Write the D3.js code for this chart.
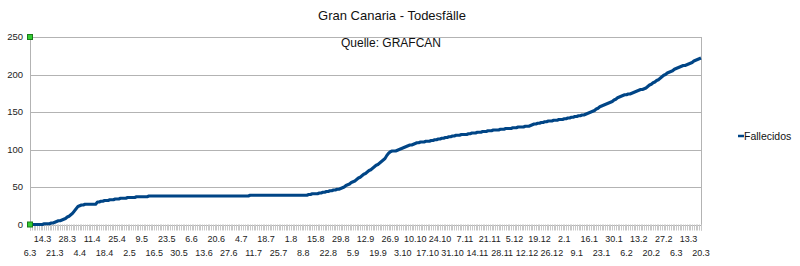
<!DOCTYPE html>
<html>
<head>
<meta charset="utf-8">
<script src="https://cdn.jsdelivr.net/npm/d3@7"></script>
<style>
  body { margin: 0; background: #fff; }
  svg { display: block; font-family: 'Liberation Sans', Arial, sans-serif; }
</style>
</head>
<body>
<svg id="chart" width="800" height="266"></svg>
<script>
// days: 6.3.2020, then 8.3.2020 .. 20.3.2021 (7.3 is missing in the source)
const firstDay = new Date(2020, 2, 6);
const rangeStart = new Date(2020, 2, 8);
const rangeEnd = new Date(2021, 2, 21);

// Fallecidos (cumulative), one value per day
const fallecidos = [
  0, 0, 0, 0, 0, 0, 0,
  0, 1, 1, 1, 1, 2, 2,
  3, 4, 5, 5, 6, 7, 8,
  10, 11, 13, 15, 18, 21, 24,
  25, 26, 26, 27, 27, 27, 27,
  27, 27, 27, 30, 30, 31, 31,
  32, 32, 32, 33, 33, 33, 34,
  34, 34, 35, 35, 35, 35, 36,
  36, 36, 36, 36, 37, 37, 37,
  37, 37, 37, 37, 38, 38, 38,
  38, 38, 38, 38, 38, 38, 38,
  38, 38, 38, 38, 38, 38, 38,
  38, 38, 38, 38, 38, 38, 38,
  38, 38, 38, 38, 38, 38, 38,
  38, 38, 38, 38, 38, 38, 38,
  38, 38, 38, 38, 38, 38, 38,
  38, 38, 38, 38, 38, 38, 38,
  38, 38, 38, 38, 38, 39, 39,
  39, 39, 39, 39, 39, 39, 39,
  39, 39, 39, 39, 39, 39, 39,
  39, 39, 39, 39, 39, 39, 39,
  39, 39, 39, 39, 39, 39, 39,
  39, 39, 39, 40, 40, 41, 41,
  41, 41, 42, 42, 43, 43, 44,
  44, 45, 45, 46, 46, 47, 47,
  48, 49, 50, 52, 53, 54, 56,
  57, 58, 60, 62, 63, 65, 67,
  68, 70, 72, 73, 75, 77, 79,
  80, 82, 84, 86, 88, 92, 95,
  97, 98, 98, 98, 99, 100, 101,
  102, 103, 104, 105, 106, 106, 107,
  108, 109, 109, 110, 110, 110, 111,
  111, 111, 112, 112, 113, 113, 114,
  114, 115, 115, 116, 116, 117, 117,
  118, 118, 119, 119, 119, 120, 120,
  120, 120, 121, 121, 122, 122, 122,
  123, 123, 123, 124, 124, 124, 125,
  125, 125, 126, 126, 126, 126, 127,
  127, 127, 128, 128, 128, 128, 129,
  129, 129, 130, 130, 130, 130, 131,
  131, 131, 132, 133, 134, 134, 135,
  135, 136, 136, 137, 137, 138, 138,
  138, 139, 139, 139, 140, 140, 140,
  141, 141, 142, 142, 143, 143, 144,
  144, 145, 145, 146, 146, 147, 148,
  149, 150, 151, 152, 154, 155, 157,
  158, 159, 160, 161, 162, 163, 164,
  166, 167, 169, 170, 171, 172, 173,
  173, 174, 174, 175, 176, 177, 178,
  179, 180, 180, 181, 182, 184, 186,
  187, 189, 190, 192, 193, 195, 197,
  199, 200, 202, 203, 204, 205, 207,
  208, 209, 210, 211, 212, 212, 213,
  214, 215, 216, 218, 219, 220, 221,
  222
];

// every 7th category gets a label, alternating between two rows
const tickLabels = [
  '6.3', '14.3', '21.3', '28.3', '4.4', '11.4', '18.4', '25.4', '2.5', '9.5',
  '16.5', '23.5', '30.5', '6.6', '13.6', '20.6', '27.6', '4.7', '11.7', '18.7',
  '25.7', '1.8', '8.8', '15.8', '22.8', '29.8', '5.9', '12.9', '19.9', '26.9',
  '3.10', '10.10', '17.10', '24.10', '31.10', '7.11', '14.11', '21.11', '28.11', '5.12',
  '12.12', '19.12', '26.12', '2.1', '9.1', '16.1', '23.1', '30.1', '6.2', '13.2',
  '20.2', '27.2', '6.3', '13.3', '20.3'
];
const yTicks = [0, 50, 100, 150, 200, 250];

const title = 'Gran Canaria - Todesfälle';
const subtitle = 'Quelle: GRAFCAN';
const seriesName = 'Fallecidos';

const days = [firstDay].concat(d3.timeDay.range(rangeStart, rangeEnd));
const keyFmt = d3.timeFormat('%Y-%m-%d');
const categories = days.map(keyFmt);
const data = categories.map((c, i) => ({ c, v: fallecidos[i] }));

const svg = d3.select('#chart');
const plotLeft = 30, plotRight = 701, plotTop = 37, plotBottom = 224.5;

const x = d3.scalePoint().domain(categories).range([plotLeft, plotRight]).padding(0);
const y = d3.scaleLinear().domain([0, 250]).range([plotBottom, plotTop]);

// grid
svg.append('g')
  .selectAll('line')
  .data(yTicks)
  .join('line')
  .attr('x1', plotLeft).attr('x2', plotRight)
  .attr('y1', d => Math.round(y(d)) + 0.5).attr('y2', d => Math.round(y(d)) + 0.5)
  .attr('stroke', '#b3b3b3')
  .attr('stroke-width', 1);

// axis lines
svg.append('line')
  .attr('x1', plotLeft + 0.5).attr('x2', plotLeft + 0.5)
  .attr('y1', y(250)).attr('y2', plotBottom + 6)
  .attr('stroke', '#b3b3b3');
svg.append('line')
  .attr('x1', plotRight + 0.5).attr('x2', plotRight + 0.5)
  .attr('y1', y(250)).attr('y2', plotBottom + 6)
  .attr('stroke', '#b3b3b3');

// category ticks
svg.append('g')
  .selectAll('line')
  .data(categories)
  .join('line')
  .attr('x1', d => Math.round(x(d)) + 0.5).attr('x2', d => Math.round(x(d)) + 0.5)
  .attr('y1', plotBottom).attr('y2', plotBottom + 6)
  .attr('stroke', '#c8c8c8');

// y labels
svg.append('g')
  .selectAll('text')
  .data(yTicks)
  .join('text')
  .attr('x', 23)
  .attr('y', d => y(d))
  .attr('dy', '0.35em')
  .attr('text-anchor', 'end')
  .attr('font-size', 9.5)
  .attr('fill', '#222')
  .text(d => d);

// x labels
svg.append('g')
  .selectAll('text')
  .data(tickLabels)
  .join('text')
  .attr('x', (d, k) => x(categories[k * 7]))
  .attr('y', (d, k) => k % 2 ? 239 : 252.5)
  .attr('dy', '0.35em')
  .attr('text-anchor', 'middle')
  .attr('font-size', 9)
  .attr('fill', '#222')
  .text(d => d);

// series line
const line = d3.line()
  .x(d => x(d.c))
  .y(d => y(d.v));

svg.append('path')
  .datum(data)
  .attr('d', line)
  .attr('fill', 'none')
  .attr('stroke', '#004586')
  .attr('stroke-width', 3)
  .attr('stroke-linejoin', 'round');

// selection handles on the y axis
svg.append('g')
  .selectAll('rect')
  .data([250, 0])
  .join('rect')
  .attr('x', plotLeft - 2.5).attr('y', d => y(d) - 2.5)
  .attr('width', 5).attr('height', 5)
  .attr('fill', '#33cc33')
  .attr('stroke', '#1a7a1a')
  .attr('stroke-width', 1);

// title
svg.append('text')
  .attr('x', 392).attr('y', 15)
  .attr('dy', '0.35em')
  .attr('text-anchor', 'middle')
  .attr('font-size', 13)
  .attr('fill', '#111')
  .text(title);

svg.append('text')
  .attr('x', 391).attr('y', 43)
  .attr('dy', '0.35em')
  .attr('text-anchor', 'middle')
  .attr('font-size', 12)
  .attr('fill', '#111')
  .text(subtitle);

// legend
const legend = svg.append('g').attr('transform', 'translate(738,136)');
legend.append('line')
  .attr('x1', 0).attr('x2', 6)
  .attr('y1', 0).attr('y2', 0)
  .attr('stroke', '#004586')
  .attr('stroke-width', 2.5);
legend.append('text')
  .attr('x', 6).attr('y', 0)
  .attr('dy', '0.35em')
  .attr('font-size', 10.5)
  .attr('fill', '#111')
  .text(seriesName);
</script>
</body>
</html>
